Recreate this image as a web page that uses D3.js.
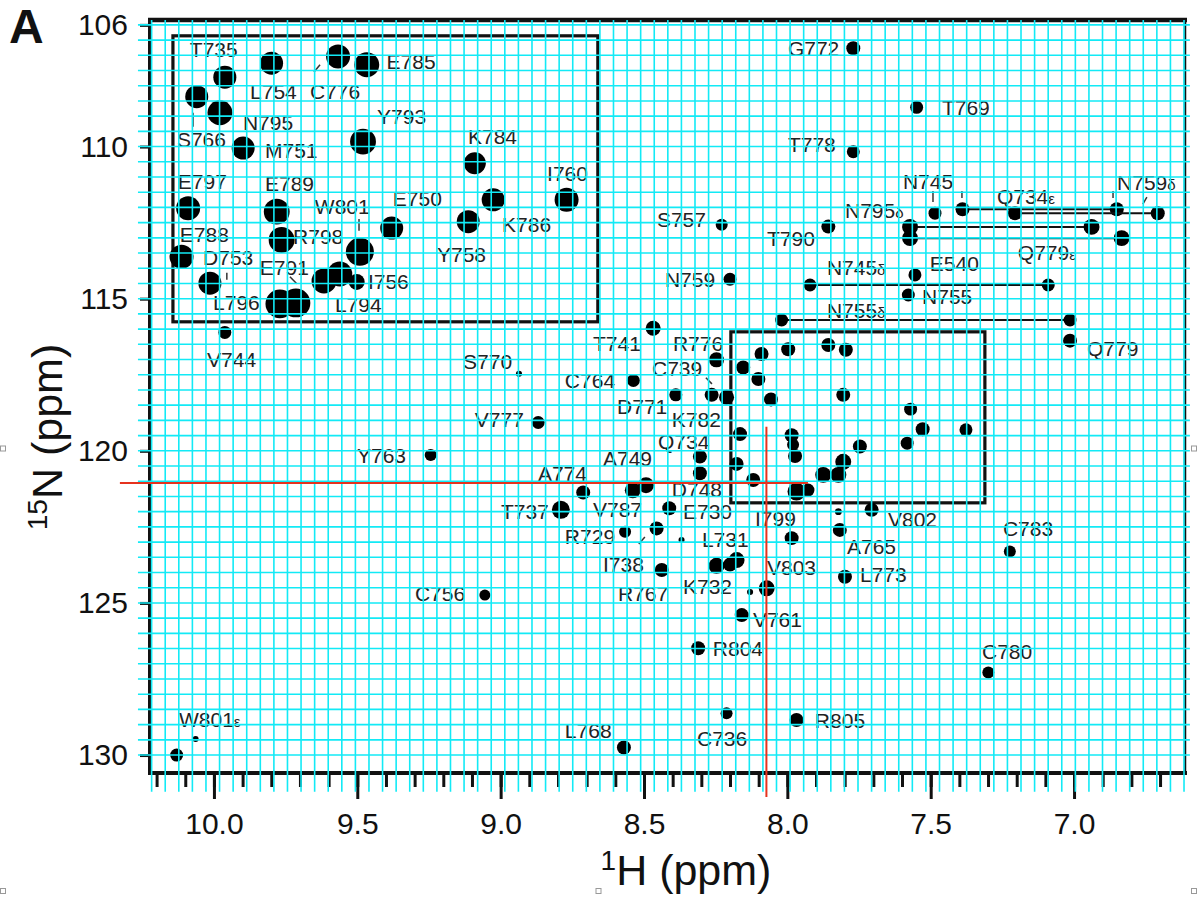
<!DOCTYPE html>
<html><head><meta charset="utf-8">
<script src="https://cdn.jsdelivr.net/npm/d3@7"></script>
<style>
body{margin:0;background:#fff}
svg{display:block}
text{font-family:"Liberation Sans",Arial,sans-serif}
</style>
</head><body>
<svg id="chart" width="1197" height="897"></svg>
<script>
// ---------- DATA (ppm) ----------
const hLimits = [10.223, 6.613];      // 1H axis range (left, right)
const nLimits = [105.84, 130.59];     // 15N axis range (top, bottom)
const hMajorTicks = [10.0, 9.5, 9.0, 8.5, 8.0, 7.5, 7.0];
const hMinorTicks = d3.range(102, 66, -1).map(v => v / 10);
const nTicks = [106, 110, 115, 120, 125, 130];

const peakNames = ["T735","L754","C776","E785","S766","N795","M751","Y793","E797","E789","R798","W801","E788","D753","E791","L794","I756","L796","E750","K784","K786","Y758","I760","V744","S770","V777","Y763","C756","T737","A774","A749","T741","C764","R776","C739","K782","D771","Q734","D748","E730","V787","R729","I738","R767","L731","K732","V803","V761","R804","C736","R805","L768","W801ε","I799","V802","A765","L773","C783","C780","G772","T769","T778","S757","N759","T790","N745","E540","N755","Q779"];
const peakH = [9.962,9.799,9.567,9.467,10.060,9.979,9.898,9.480,10.090,9.781,9.764,9.491,10.113,10.014,9.616,9.561,9.502,9.770,9.380,9.090,9.026,9.113,8.770,9.962,8.936,8.869,9.244,9.055,8.790,8.712,8.493,8.468,8.537,8.247,8.264,8.212,8.389,8.305,8.305,8.412,8.456,8.566,8.438,8.369,8.247,8.130,8.072,8.159,8.311,8.212,7.968,8.570,10.130,7.985,7.706,7.817,7.799,7.224,7.299,7.770,7.549,7.770,8.229,8.200,7.857,7.485,7.555,7.578,7.014];
const peakN = [107.72,107.26,107.04,107.31,108.36,108.89,110.05,109.84,112.03,112.14,113.07,113.46,113.62,114.49,114.42,114.19,114.45,115.17,112.68,110.55,111.75,112.47,111.75,116.11,117.47,119.07,120.14,124.74,121.94,121.37,121.13,115.97,117.69,117.01,118.16,118.24,118.16,120.19,120.74,121.89,122.55,122.66,123.92,122.93,123.78,124.64,124.52,125.40,126.49,128.63,128.85,129.75,130.00,122.87,121.94,122.60,124.14,123.31,127.29,106.77,108.71,110.17,112.57,114.36,112.63,112.19,114.22,114.88,116.38];
const peakVolume = [23,23,25,27,23,27,23,29,25,29,29,34,25,23,27,27,11,36,23,21,23,23,25,7.3,1.6,7.3,6.25,5.25,14,8.5,11,9.8,7.3,9.8,8.5,9.8,7.3,8.5,8.5,8.5,8.5,6.25,8.5,1.6,11,1.6,11,8.5,8.5,6.25,8.5,8.5,7.3,8.5,8.5,8.5,8.5,6.25,6.25,8.5,7.3,7.3,6.25,7.3,8.5,7.3,7.3,7.3,8.5];
const labelH = [10.084,9.874,9.665,9.398,10.129,9.899,9.822,9.431,10.126,9.822,9.724,9.648,10.119,10.038,9.840,9.578,9.463,10.003,9.376,9.114,8.995,9.222,8.838,10.024,9.131,9.090,9.501,9.299,8.999,8.870,8.643,8.678,8.776,8.399,8.472,8.403,8.594,8.451,8.403,8.364,8.678,8.776,8.643,8.591,8.298,8.364,8.071,8.120,8.260,8.315,7.904,8.776,10.122,8.113,7.649,7.792,7.747,7.248,7.321,7.998,7.461,7.998,8.455,8.427,8.071,7.597,7.503,7.530,6.955];
const labelN = [106.82,108.19,108.19,107.21,109.78,109.21,110.13,109.01,111.15,111.23,112.97,111.98,112.90,113.63,113.99,115.20,114.45,115.14,111.70,109.67,112.57,113.56,110.88,117.01,117.08,118.98,120.14,124.70,122.01,120.74,120.24,116.46,117.69,116.46,117.29,118.98,118.55,119.70,121.27,122.00,121.94,122.82,123.75,124.70,122.93,124.47,123.85,125.56,126.49,129.45,128.85,129.18,128.81,122.21,122.27,123.15,124.08,122.55,126.60,106.77,108.71,109.94,112.41,114.38,113.03,111.15,113.83,114.93,116.63];

// side-chain NH2 pairs (connected by lines)
const scNames = ["N795δ","Q779ε","Q734ε","N759δ","N745δ","N755δ"];
const scH1 = [7.572,7.572,7.389,7.206,7.921,8.020];
const scH2 = [6.939,6.834,6.851,6.708,7.090,7.014];
const scN = [112.64,113.01,112.06,112.19,114.55,115.70];
const scVolume = [11,11,8.5,8.5,7.3,7.3];
const scLabelH = [7.799,7.196,7.269,6.850,7.862,7.862];
const scLabelN = [112.08,113.45,111.64,111.15,113.95,115.37];

// unassigned / overlapping peaks
const extraH = [7.997,7.857,7.796,8.090,8.154,8.101,8.057,7.805,7.570,7.528,7.377,7.582,8.165,7.985,7.980,7.973,7.747,7.805,8.177,8.119,7.875,7.822,7.968,7.928,7.822,10.064,8.177,8.200,8.539,9.714];
const extraN = [116.66,116.52,116.68,116.82,117.26,117.64,118.31,118.16,118.63,119.29,119.31,119.75,119.45,119.49,119.80,120.17,119.86,120.36,120.43,120.96,120.79,120.79,121.34,121.29,122.00,129.47,123.59,123.74,121.30,115.14];
const extraVolume = [8.5,8.5,8.5,8.5,8.5,8.5,8.5,8.5,7.3,8.5,7.3,7.3,8.5,8.5,6.25,8.5,8.5,11,8.5,8.5,11,11,14,7.3,2.0,1.6,11,8.5,11,36];

// label leader marks (from -> to, ppm)
const leadH1 = [10.073,9.494,7.492,7.391,6.864,6.746,9.651,9.735,8.284,8.518,9.955];
const leadN1 = [108.89,112.38,111.46,111.46,111.46,111.66,107.55,114.28,117.60,123.06,114.15];
const leadH2 = [10.073,9.494,7.492,7.391,6.864,6.760,9.630,9.711,8.263,8.497,9.955];
const leadN2 = [109.35,112.77,111.82,111.69,111.69,111.89,107.31,114.51,117.80,122.83,114.38];

// zoom boxes [H left, H right, N top, N bottom]
const boxH1 = [10.143, 8.197];
const boxH2 = [8.661, 7.311];
const boxN1 = [106.36, 116.09];
const boxN2 = [115.76, 121.71];

// red cross-hair
const crossH = 8.073, crossN = 121.06;
const crossHExtent = [10.328, 7.928];
const crossNExtent = [119.21, 131.38];

// cyan overlay grid
const gridHStart = 10.2173, gridHStep = 0.04738, gridHCount = 77;
const gridNValues = d3.range(0, 49).map(k => 106 + k * 0.5);
const gridHExtent = [10.265, 6.596];
const gridNExtent = [105.84, 131.21];

// ---------- CHART ----------
const W = 1197, H = 897;
const svg = d3.select("#chart");
const x = d3.scaleLinear().domain(hLimits).range([150, 1185]);
const y = d3.scaleLinear().domain(nLimits).range([20, 773]);
const r = d3.scaleSqrt().domain([0, 100]).range([0, 24]);

const ink = "#111";
const labelColor = "#222";

// boxes
const gBox = svg.append("g");
for (let i = 0; i < 2; i++) {
  gBox.append("rect")
    .attr("x", x(boxH1[i])).attr("y", y(boxN1[i]))
    .attr("width", x(boxH2[i]) - x(boxH1[i]))
    .attr("height", y(boxN2[i]) - y(boxN1[i]))
    .attr("fill", "none").attr("stroke", ink).attr("stroke-width", 3.2);
}

// side chain lines
const gSc = svg.append("g");
scNames.forEach((n, i) => {
  gSc.append("line")
    .attr("x1", x(scH1[i])).attr("x2", x(scH2[i]))
    .attr("y1", y(scN[i])).attr("y2", y(scN[i]))
    .attr("stroke", ink).attr("stroke-width", 2);
  [scH1[i], scH2[i]].forEach(h => {
    gSc.append("circle").attr("cx", x(h)).attr("cy", y(scN[i]))
      .attr("r", r(scVolume[i])).attr("fill", "#000");
  });
});

// leader marks
svg.append("g").selectAll("line").data(leadH1).join("line")
  .attr("x1", d => x(d)).attr("y1", (d, i) => y(leadN1[i]))
  .attr("x2", (d, i) => x(leadH2[i])).attr("y2", (d, i) => y(leadN2[i]))
  .attr("stroke", "#333").attr("stroke-width", 1.5);

// peaks
const gPk = svg.append("g");
gPk.selectAll("circle.pk").data(peakNames).join("circle")
  .attr("class", "pk")
  .attr("cx", (d, i) => x(peakH[i])).attr("cy", (d, i) => y(peakN[i]))
  .attr("r", (d, i) => r(peakVolume[i])).attr("fill", "#000");
gPk.selectAll("circle.ex").data(extraH).join("circle")
  .attr("class", "ex")
  .attr("cx", (d) => x(d)).attr("cy", (d, i) => y(extraN[i]))
  .attr("r", (d, i) => r(extraVolume[i])).attr("fill", "#000");

// labels
function addLabel(g, name, lx, ly) {
  const t = g.append("text").attr("x", lx).attr("y", ly)
    .attr("dominant-baseline", "central")
    .attr("font-size", 21).attr("fill", labelColor);
  const last = name.slice(-1);
  if (last === "δ" || last === "ε") {
    t.append("tspan").text(name.slice(0, -1));
    t.append("tspan").attr("font-size", 15).attr("dy", 2).text(last);
  } else {
    t.text(name);
  }
}
const gLab = svg.append("g");
peakNames.forEach((n, i) => addLabel(gLab, n, x(labelH[i]), y(labelN[i])));
scNames.forEach((n, i) => addLabel(gLab, n, x(scLabelH[i]), y(scLabelN[i])));

// axes
const xMinor = d3.axisBottom(x).tickValues(hMinorTicks).tickSize(14).tickFormat("");
const xMajor = d3.axisBottom(x).tickValues(hMajorTicks).tickSize(26).tickPadding(14).tickFormat(d3.format(".1f"));
const gxm = svg.append("g").attr("transform", `translate(0,${y(nLimits[1])})`).call(xMinor);
const gxM = svg.append("g").attr("transform", `translate(0,${y(nLimits[1])})`).call(xMajor);
const yAx = d3.axisLeft(y).tickValues(nTicks).tickSize(10).tickPadding(12);
const gy = svg.append("g").attr("transform", `translate(${x(hLimits[0])},0)`).call(yAx);
[gxm, gxM, gy].forEach(g => {
  g.select(".domain").remove();
  g.selectAll(".tick line").attr("stroke", ink).attr("stroke-width", 3);
  g.selectAll(".tick text").attr("font-size", 30).attr("fill", "#111")
    .attr("font-family", '"Liberation Sans",Arial,sans-serif');
});

// frame
const fx0 = x(hLimits[0]), fx1 = x(hLimits[1]), fy0 = y(nLimits[0]), fy1 = y(nLimits[1]);
svg.append("line").attr("x1", fx0 - 2).attr("x2", fx1 + 2).attr("y1", fy0).attr("y2", fy0).attr("stroke", ink).attr("stroke-width", 4.5);
svg.append("line").attr("x1", fx0 - 2).attr("x2", fx1 + 2).attr("y1", fy1).attr("y2", fy1).attr("stroke", ink).attr("stroke-width", 4);
svg.append("line").attr("x1", fx0).attr("x2", fx0).attr("y1", fy0).attr("y2", fy1 + 2).attr("stroke", ink).attr("stroke-width", 4);
svg.append("line").attr("x1", fx1).attr("x2", fx1).attr("y1", fy0).attr("y2", fy1).attr("stroke", ink).attr("stroke-width", 2.5);

// cyan grid overlay
const gGrid = svg.append("g").attr("stroke", "#12eaf6").attr("stroke-width", 1.6);
d3.range(gridHCount).map(i => gridHStart - i * gridHStep).forEach(h => {
  gGrid.append("line").attr("x1", x(h)).attr("x2", x(h))
    .attr("y1", y(gridNExtent[0])).attr("y2", y(gridNExtent[1]));
});
gridNValues.forEach(n => {
  gGrid.append("line").attr("x1", x(gridHExtent[0])).attr("x2", x(gridHExtent[1]))
    .attr("y1", y(n)).attr("y2", y(n));
});

// red cross-hair
svg.append("line").attr("x1", x(crossHExtent[0])).attr("x2", x(crossHExtent[1]))
  .attr("y1", y(crossN)).attr("y2", y(crossN)).attr("stroke", "#e5331f").attr("stroke-width", 2);
svg.append("line").attr("x1", x(crossH)).attr("x2", x(crossH))
  .attr("y1", y(crossNExtent[0])).attr("y2", y(crossNExtent[1])).attr("stroke", "#e5331f").attr("stroke-width", 2);

// axis titles
const xt = svg.append("text").attr("x", 686).attr("y", 885).attr("text-anchor", "middle").attr("fill", "#111");
xt.append("tspan").attr("font-size", 28).attr("dy", -15).text("1");
xt.append("tspan").attr("font-size", 43).attr("dy", 15).text("H (ppm)");
const yt = svg.append("text").attr("transform", "translate(62,437) rotate(-90)").attr("text-anchor", "middle").attr("fill", "#111");
yt.append("tspan").attr("font-size", 28).attr("dy", -15).text("15");
yt.append("tspan").attr("font-size", 43).attr("dy", 15).text("N (ppm)");

// panel letter
svg.append("text").attr("x", 9).attr("y", 43).attr("font-size", 48).attr("font-weight", "bold").attr("fill", "#111").text("A");

// small frame handles
[[0, H / 2 - 3], [W - 6, H / 2 - 3], [0, H - 9], [W / 2 - 3, H - 9], [W - 6, H - 9]].forEach(p => {
  svg.append("rect").attr("x", p[0] + 0.5).attr("y", p[1] + 0.5).attr("width", 5).attr("height", 5)
    .attr("fill", "#fff").attr("stroke", "#999").attr("stroke-width", 1);
});
</script>
</body></html>
